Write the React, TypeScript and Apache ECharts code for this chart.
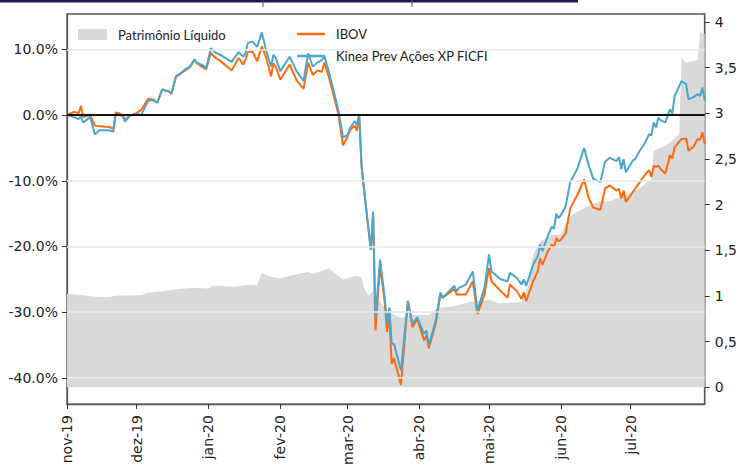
import React, { useEffect, useRef } from "react";
import * as echarts from "echarts";

// ---- data ----
const lineDates = [
  "2019-11-01","2019-11-04","2019-11-06","2019-11-07","2019-11-08","2019-11-11","2019-11-13","2019-11-15","2019-11-19","2019-11-21",
  "2019-11-22","2019-11-24","2019-11-25","2019-11-26","2019-11-28","2019-12-01","2019-12-03","2019-12-06","2019-12-08","2019-12-10",
  "2019-12-12","2019-12-15","2019-12-16","2019-12-18","2019-12-20","2019-12-22","2019-12-24","2019-12-26","2019-12-27","2019-12-30",
  "2019-12-31","2020-01-02","2020-01-04","2020-01-06","2020-01-11","2020-01-14","2020-01-16","2020-01-17","2020-01-18","2020-01-20",
  "2020-01-22","2020-01-24","2020-01-26","2020-01-28","2020-01-29","2020-01-30","2020-02-01","2020-02-05","2020-02-08","2020-02-11",
  "2020-02-13","2020-02-15","2020-02-17","2020-02-19","2020-02-20","2020-02-22","2020-02-26","2020-02-28","2020-03-01","2020-03-02",
  "2020-03-04","2020-03-05","2020-03-06","2020-03-07","2020-03-09","2020-03-11","2020-03-12","2020-03-13","2020-03-15","2020-03-17",
  "2020-03-18","2020-03-19","2020-03-20","2020-03-21","2020-03-24","2020-03-27","2020-03-29","2020-03-31","2020-04-03","2020-04-04",
  "2020-04-05","2020-04-08","2020-04-10","2020-04-11","2020-04-16","2020-04-17","2020-04-18","2020-04-21","2020-04-24","2020-04-26",
  "2020-04-29","2020-05-01","2020-05-02","2020-05-06","2020-05-09","2020-05-10","2020-05-13","2020-05-15","2020-05-16","2020-05-17",
  "2020-05-20","2020-05-22","2020-05-23","2020-05-24","2020-05-26","2020-05-28","2020-05-29","2020-05-30","2020-05-31","2020-06-01",
  "2020-06-03","2020-06-05","2020-06-08","2020-06-11","2020-06-13","2020-06-15","2020-06-18","2020-06-20","2020-06-22","2020-06-25",
  "2020-06-26","2020-06-27","2020-06-28","2020-06-29","2020-07-02","2020-07-03","2020-07-05","2020-07-07","2020-07-09","2020-07-10",
  "2020-07-11","2020-07-12","2020-07-13","2020-07-14","2020-07-16","2020-07-18","2020-07-19","2020-07-20","2020-07-23","2020-07-25",
  "2020-07-26","2020-07-28","2020-07-30","2020-07-31","2020-08-01","2020-08-02"
];

const kinea = [
  0, -0.3, -0.6, -0.2, -1.1, -0.3, -2.9, -2.3, -2.3, -2.5,
  0.1, 0.0, -0.2, -1.0, -0.1, 0.2, 0.0, 2.2, 2.3, 1.9,
  3.9, 3.6, 3.3, 5.9, 6.4, 7.0, 7.4, 8.5, 8.0, 7.5,
  7.1, 10.2, 9.5, 9.2, 8.1, 9.6, 8.9, 9.5, 11.0, 11.2,
  10.4, 12.6, 9.7, 7.4, 9.2, 8.7, 6.7, 8.9, 6.7, 5.2,
  9.4, 7.4, 8.0, 8.4, 9.0, 6.5, 0.8, -3.4, -3.0, -2.0,
  -0.9, -1.5, 0.15, -7.7, -14.2, -20.5, -14.7, -30.8, -22.0, -27.8,
  -31.8, -29.3, -34.8, -34.8, -38.9, -28.3, -31.8, -30.8, -33.3, -32.8,
  -35.1, -31.3, -27.0, -27.8, -26.0, -26.8, -26.3, -25.8, -23.8, -29.8,
  -26.3, -21.2, -23.8, -25.0, -25.3, -24.0, -24.8, -25.8, -25.0, -26.0,
  -22.8, -21.5, -19.7, -20.7, -18.7, -17.0, -17.3, -15.0, -15.7, -15.2,
  -13.9, -10.2, -8.2, -5.0, -7.7, -9.7, -10.2, -7.1, -6.5, -7.0,
  -6.4, -8.2, -6.7, -8.7, -6.9, -6.7, -5.4, -4.4, -2.9, -3.1,
  -1.1, -1.9, -0.4, -0.8, -1.1, 0.9, 0.2, 2.9, 5.2, 4.7,
  2.4, 2.7, 3.2, 2.9, 4.2, 2.2
];

const ibov = [
  0, 0.5, 0.3, 1.4, -0.3, 0.0, -1.6, -1.7, -1.8, -2.1,
  0.4, 0.2, 0.0, -0.7, -0.1, 0.3, 0.8, 2.5, 2.4, 1.9,
  3.9, 3.6, 3.2, 5.9, 6.3, 6.8, 7.3, 8.4, 7.9, 7.2,
  7.0, 9.5, 8.7, 8.3, 6.8, 8.7, 7.7, 8.5, 9.6, 9.7,
  8.2, 10.5, 8.6, 5.9, 7.9, 7.4, 5.4, 7.7, 5.3, 4.0,
  8.0, 6.1, 6.8, 6.6, 8.0, 5.7, 0.2, -4.6, -3.3, -2.3,
  -1.6, -2.4, -0.1, -7.7, -14.2, -20.5, -15.0, -32.8, -23.0, -28.5,
  -33.0, -30.3, -37.9, -37.0, -41.1, -28.3, -32.3, -31.0, -34.3, -33.5,
  -35.5, -31.8, -27.3, -27.8, -26.5, -27.3, -27.3, -27.3, -25.3, -30.3,
  -27.3, -23.3, -25.3, -26.8, -27.8, -25.8, -26.8, -28.0, -27.0, -28.3,
  -25.3, -23.8, -21.8, -22.8, -21.0, -19.7, -20.2, -18.7, -19.2, -19.0,
  -18.0, -14.2, -12.2, -9.8, -12.7, -14.1, -14.4, -11.2, -10.7, -11.5,
  -11.2, -12.7, -11.5, -13.2, -11.7, -11.2, -10.2, -9.2, -8.4, -9.4,
  -7.7, -7.9, -7.7, -8.2, -8.9, -6.1, -6.6, -4.9, -3.6, -3.6,
  -5.4, -4.9, -3.6, -3.8, -2.6, -4.4
];

const plDates = [
  "2019-11-01","2019-11-07","2019-11-13","2019-11-19","2019-11-22","2019-12-03","2019-12-06","2019-12-12","2019-12-19","2019-12-26",
  "2020-01-01","2020-01-03","2020-01-12","2020-01-18","2020-01-22","2020-01-24","2020-01-28","2020-02-01","2020-02-07","2020-02-13",
  "2020-02-15","2020-02-22","2020-02-28","2020-03-05","2020-03-07","2020-03-08","2020-03-10","2020-03-12","2020-03-14","2020-03-19",
  "2020-03-24","2020-03-29","2020-04-05","2020-04-09","2020-04-15","2020-04-23","2020-04-29","2020-05-01","2020-05-04","2020-05-05",
  "2020-05-15","2020-05-18","2020-05-20","2020-05-23","2020-05-28","2020-06-01","2020-06-04","2020-06-08","2020-06-11","2020-06-17",
  "2020-06-22","2020-06-27","2020-07-04","2020-07-10","2020-07-11","2020-07-14","2020-07-18","2020-07-22","2020-07-23","2020-07-25",
  "2020-07-30","2020-07-31","2020-08-02"
];

const pl = [
  1.02, 1.01, 0.99, 0.985, 1.0, 1.01, 1.036, 1.05, 1.076, 1.09,
  1.08, 1.11, 1.1, 1.12, 1.12, 1.25, 1.21, 1.19, 1.23, 1.26,
  1.24, 1.3, 1.18, 1.22, 1.2, 1.09, 1.0, 1.05, 0.96, 0.815,
  0.76, 0.79, 0.79, 0.87, 0.88, 0.935, 0.95, 0.96, 0.93, 0.92,
  0.93, 1.12, 1.45, 1.59, 1.67, 1.67, 1.85, 1.92, 1.96, 2.03,
  2.04, 2.08, 2.16, 2.28, 2.59, 2.62, 2.68, 2.77, 3.61, 3.55,
  3.59, 3.89, 3.87
];

const leftTicks = [-40, -30, -20, -10, 0, 10];
const gridValues = [-40, -30, -20, -10, 10];
const rightTicks = [0, 0.5, 1, 1.5, 2, 2.5, 3, 3.5, 4];
const monthTicks = [
  "2019-11-01","2019-12-01","2020-01-01","2020-02-01","2020-03-01",
  "2020-04-01","2020-05-01","2020-06-01","2020-07-01"
];
const monthNames = ["jan","fev","mar","abr","mai","jun","jul","ago","set","out","nov","dez"];
const xStart = "2019-11-01";
const xEnd = "2020-08-02";

function ts(s: string): number {
  const [y, m, d] = s.split("-").map(Number);
  return new Date(y, m - 1, d).getTime();
}

const tickFont = { fontFamily: "'DejaVu Sans', Verdana, sans-serif", fontSize: 14, color: "#222" };
const legendFont = { fontFamily: "Lato", fontSize: 13, color: "#222" };

export default function App() {
  const ref = useRef<HTMLDivElement>(null);

  useEffect(() => {
    if (!ref.current) return;
    const chart = echarts.init(ref.current, undefined, { renderer: "svg" });
    const xTicks = monthTicks.map(ts);

    chart.setOption({
      animation: false,
      backgroundColor: "#fff",
      grid: {
        left: 67, right: 31, top: 14, bottom: 61,
        show: true, borderColor: "#555", borderWidth: 1.3, backgroundColor: "transparent"
      },
      graphic: [
        { type: "rect", shape: { x: 0, y: 0, width: 578, height: 2.5 }, style: { fill: "#1f1650" } },
        { type: "line", shape: { x1: 263, y1: 0, x2: 263, y2: 7 }, style: { stroke: "#4a4a90", lineWidth: 1 } },
        { type: "line", shape: { x1: 412, y1: 0, x2: 412, y2: 7 }, style: { stroke: "#4a4a90", lineWidth: 1 } }
      ],
      legend: [
        {
          data: ["Patrimônio Líquido"],
          left: 78, top: 28, padding: 0, icon: "rect", itemWidth: 29, itemHeight: 11,
          selectedMode: false, textStyle: { ...legendFont, padding: [0, 0, 0, 6] }
        },
        {
          data: ["IBOV", "Kinea Prev Ações XP FICFI"],
          orient: "vertical", left: 297, top: 26, padding: 0, icon: "rect", itemWidth: 28, itemHeight: 2.5,
          itemGap: 6, selectedMode: false,
          textStyle: { ...legendFont, lineHeight: 16, padding: [0, 0, 0, 6] }
        }
      ],
      xAxis: {
        type: "value",
        min: ts(xStart), max: ts(xEnd),
        axisLine: { show: true, onZero: false, lineStyle: { color: "#555", width: 1.3 } },
        axisTick: { show: true, customValues: xTicks, length: 5, lineStyle: { color: "#333" } },
        axisLabel: {
          customValues: xTicks, rotate: 90, margin: 11, ...tickFont,
          formatter: (v: number) => {
            const d = new Date(v);
            return monthNames[d.getMonth()] + "-" + String(d.getFullYear()).slice(2);
          }
        },
        splitLine: { show: false }
      },
      yAxis: [
        {
          type: "value", position: "left", min: -44, max: 15.4,
          axisLine: { show: true, lineStyle: { color: "#555", width: 1.3 } },
          axisTick: { show: true, customValues: leftTicks, length: 5, lineStyle: { color: "#333" } },
          axisLabel: { customValues: leftTicks, margin: 9, ...tickFont, formatter: (v: number) => v.toFixed(1) + "%" },
          splitLine: { show: false }
        },
        {
          type: "value", position: "right", min: -0.185, max: 4.087,
          axisLine: { show: true, lineStyle: { color: "#555", width: 1.3 } },
          axisTick: { show: true, customValues: rightTicks, length: 5, lineStyle: { color: "#333" } },
          axisLabel: { customValues: rightTicks, margin: 10, ...tickFont, formatter: (v: number) => String(v).replace(".", ",") },
          splitLine: { show: false }
        }
      ],
      series: [
        {
          name: "Patrimônio Líquido", type: "line", yAxisIndex: 1, z: 1,
          color: "#d9d9d9", symbol: "none", silent: true,
          lineStyle: { width: 0 }, areaStyle: { color: "#d9d9d9", opacity: 1 },
          data: plDates.map((d, i) => [ts(d), pl[i]])
        },
        {
          name: "grid", type: "line", yAxisIndex: 0, z: 2, symbol: "none", silent: true,
          lineStyle: { opacity: 0 },
          data: lineDates.map((d, i) => [ts(d), ibov[i]]),
          markLine: {
            silent: true, symbol: ["none", "none"], label: { show: false },
            lineStyle: { color: "#e8e8e8", width: 1.5, type: "solid" },
            data: gridValues.map((v) => ({ yAxis: v }))
          }
        },
        {
          name: "IBOV", type: "line", yAxisIndex: 0, z: 3, color: "#ff6a10",
          symbol: "none", lineStyle: { width: 2, color: "#ff6a10" },
          data: lineDates.map((d, i) => [ts(d), ibov[i]])
        },
        {
          name: "Kinea Prev Ações XP FICFI", type: "line", yAxisIndex: 0, z: 4, color: "#4ba6cb",
          symbol: "none", lineStyle: { width: 2, color: "#4ba6cb" },
          data: lineDates.map((d, i) => [ts(d), kinea[i]]),
          markLine: {
            silent: true, symbol: ["none", "none"], label: { show: false },
            lineStyle: { color: "#111", width: 2, type: "solid" },
            data: [{ yAxis: 0 }]
          }
        }
      ]
    });

    return () => chart.dispose();
  }, []);

  return (
    <div
      ref={ref}
      style={{ position: "fixed", left: 0, top: 0, width: 740, height: 468, background: "#fff" }}
    />
  );
}
